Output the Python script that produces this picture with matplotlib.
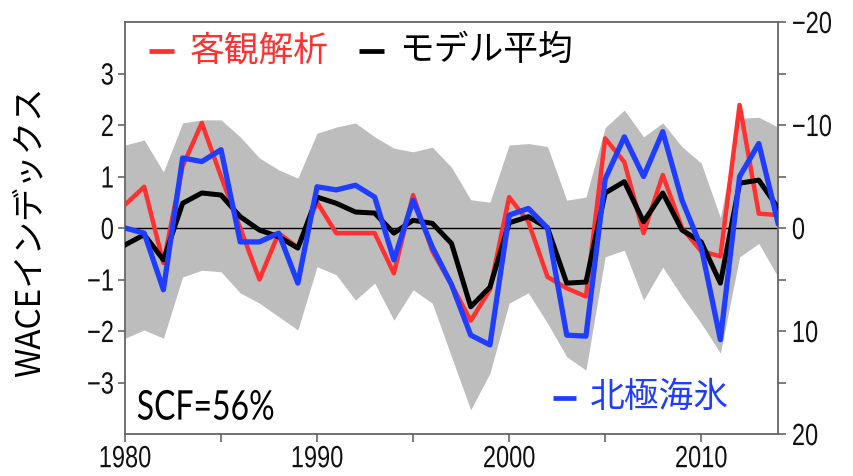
import numpy as np
import matplotlib
matplotlib.use("Agg")
import matplotlib.pyplot as plt
from matplotlib.patheffects import AbstractPathEffect
from matplotlib.transforms import Affine2D
from matplotlib.lines import Line2D
from matplotlib.ticker import MultipleLocator

# ---- data -------------------------------------------------------------
years = list(range(1980, 2015))

reanalysis = [0.45, 0.80, -0.68, 1.20, 2.04, 1.00, 0.00, -1.00, -0.10, -0.38,
              0.50, -0.10, -0.10, -0.10, -0.88, 0.64, -0.45, -1.10, -1.80, -1.20,
              0.60, 0.12, -0.95, -1.17, -1.33, 1.74, 1.28, -0.10, 1.03, 0.00,
              -0.45, -0.55, 2.39, 0.28, 0.25]

model_mean = [-0.33, -0.13, -0.62, 0.48, 0.68, 0.64, 0.22, -0.04, -0.17, -0.39,
              0.60, 0.48, 0.31, 0.29, -0.10, 0.15, 0.09, -0.30, -1.53, -1.15,
              0.10, 0.22, 0.00, -1.07, -1.05, 0.68, 0.90, 0.12, 0.68, -0.04,
              -0.27, -1.07, 0.87, 0.93, 0.39]

sea_ice = [0.00, -0.10, -1.20, 1.36, 1.29, 1.52, -0.27, -0.27, -0.10, -1.07,
           0.80, 0.74, 0.83, 0.60, -0.62, 0.54, -0.37, -1.10, -2.08, -2.27,
           0.25, 0.38, 0.00, -2.08, -2.10, 0.95, 1.77, 1.00, 1.87, 0.54,
           -0.37, -2.17, 1.00, 1.64, 0.10]

spread_upper = [1.61, 1.71, 1.09, 2.04, 2.10, 2.10, 1.77, 1.36, 1.13, 0.97,
                1.84, 1.96, 2.04, 1.77, 1.55, 1.48, 1.57, 1.18, 0.55, 0.50,
                1.61, 1.64, 1.58, 0.54, 0.60, 1.95, 2.29, 1.77, 2.04, 1.58,
                1.26, 0.20, 2.13, 2.15, 1.96]

spread_lower = [-2.14, -1.98, -2.14, -0.95, -0.82, -0.85, -1.26, -1.46, -1.72, -1.98,
                -0.75, -0.91, -1.40, -1.07, -1.79, -1.20, -1.46, -2.50, -3.53, -2.82,
                -1.46, -1.26, -1.85, -2.50, -2.76, -0.56, -0.43, -1.40, -0.76, -1.33,
                -1.85, -2.43, -0.56, -0.30, -0.95]

left_ticks = [-3, -2, -1, 0, 1, 2, 3]
right_ticks = [-20, -10, 0, 10, 20]
year_ticks = [1980, 1990, 2000, 2010]

label_reanalysis = "客観解析"
label_model = "モデル平均"
label_ice = "北極海氷"
ylabel_text = "WACEインデックス"
scf_text = "SCF=56%"

# ---- styling helpers --------------------------------------------------
class VStretch(AbstractPathEffect):
    """Stretch glyphs vertically about a pivot height given in glyph units."""
    def __init__(self, sy, pivot=0.0):
        super().__init__()
        self._sy = sy
        self._pivot = pivot

    def draw_path(self, renderer, gc, tpath, affine, rgbFace=None):
        t = (Affine2D().translate(0, -self._pivot)
             .scale(1, self._sy).translate(0, self._pivot))
        renderer.draw_path(gc, tpath, t + affine, rgbFace)


CJK = ["Noto Sans CJK JP", "DejaVu Sans"]
TICKFONT = ["Liberation Sans", "DejaVu Sans"]
RED = "#ff3030"
BLUE = "#1f3dff"
SPINE = "#666666"

fig = plt.figure(figsize=(8.54, 4.76), dpi=100)
ax = fig.add_axes([125 / 854, 42 / 476, 653 / 854, 412 / 476])

# ensemble spread
ax.fill_between(years, spread_lower, spread_upper, color="#bdbdbd",
                linewidth=0, zorder=1)
ax.axhline(0, color="black", linewidth=1.0, zorder=2)

ax.plot(years, reanalysis, color=RED, linewidth=3.2, zorder=3)
ax.plot(years, model_mean, color="black", linewidth=3.6, zorder=4)
ax.plot(years, sea_ice, color=BLUE, linewidth=3.8, zorder=5)

ax.set_xlim(1980, 2014)
ax.set_ylim(-4, 4)
ax.set_yticks(left_ticks)
ax.set_xticks(year_ticks)
ax.xaxis.set_minor_locator(MultipleLocator(5))

for s in ax.spines.values():
    s.set_color(SPINE)
    s.set_linewidth(1.3)

ax.tick_params(axis="y", which="major", direction="out", length=5, width=1.2,
               color=SPINE, pad=3, labelsize=17, labelcolor="#111111")
ax.tick_params(axis="x", which="both", direction="out", length=6, width=1.2,
               color=SPINE, pad=2, labelsize=17, labelcolor="#111111")

ax2 = ax.twinx()
ax2.set_ylim(20, -20)
ax2.set_yticks(right_ticks)
ax2.yaxis.set_minor_locator(MultipleLocator(5))
for s in ax2.spines.values():
    s.set_visible(False)
ax2.tick_params(axis="y", which="both", direction="out", length=6, width=1.2,
                color=SPINE, pad=4, labelsize=17, labelcolor="#111111")

for lbl in ax.get_yticklabels() + ax2.get_yticklabels():
    lbl.set_fontfamily(TICKFONT)
    lbl.set_path_effects([VStretch(1.3, pivot=36)])
for lbl in ax.get_xticklabels():
    lbl.set_fontfamily(TICKFONT)
    lbl.set_path_effects([VStretch(1.3, pivot=72)])

# legend entries written inside the frame
def legend_entry(x0, x1, xt, y, color, text):
    ax.add_line(Line2D([x0, x1], [y, y], transform=ax.transAxes,
                       color=color, linewidth=3.4, zorder=6,
                       solid_capstyle="butt"))
    ax.text(xt, y, text, transform=ax.transAxes, color=color, fontsize=25,
            family=CJK, ha="left", va="center", zorder=6)

legend_entry(0.036, 0.075, 0.099, 0.930, RED, label_reanalysis)
legend_entry(0.358, 0.396, 0.419, 0.930, "black", label_model)
legend_entry(0.655, 0.690, 0.712, 0.088, BLUE, label_ice)

ax.text(0.018, 0.035, scf_text, transform=ax.transAxes, fontsize=23,
        family=["Lato", "DejaVu Sans"], ha="left", va="baseline",
        color="black", zorder=6, path_effects=[VStretch(1.28)])

fig.text(30 / 854, (476 - 232) / 476, ylabel_text, rotation=90,
         fontsize=24, family=CJK, ha="center", va="center", color="black")

fig.savefig("out.png", dpi=100, facecolor="white")
